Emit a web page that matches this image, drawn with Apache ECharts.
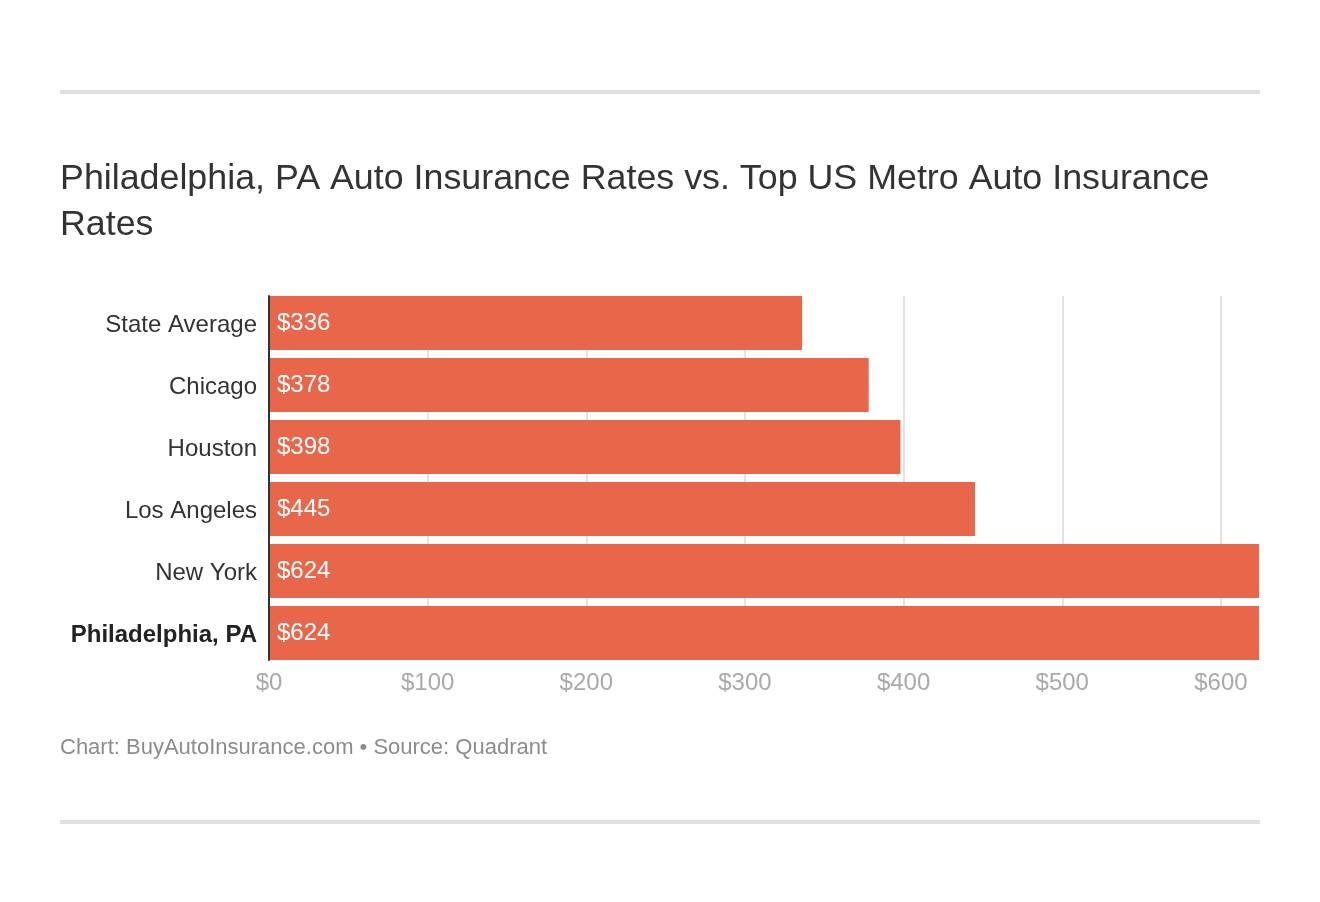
<!DOCTYPE html>
<html>
<head>
<meta charset="utf-8">
<script src="https://cdn.jsdelivr.net/npm/echarts@6/dist/echarts.min.js"></script>
<style>
html,body{margin:0;padding:0;background:#fff;}
#chart{width:1320px;height:902px;}
</style>
</head>
<body>
<div id="chart"></div>
<script>
const categories = ["State Average", "Chicago", "Houston", "Los Angeles", "New York", "Philadelphia, PA"];
const rates = [336, 378, 398, 445, 624, 624];
const highlighted = "Philadelphia, PA";
const titleText = "Philadelphia, PA Auto Insurance Rates vs. Top US Metro Auto Insurance\nRates";
const footerText = "Chart: BuyAutoInsurance.com \u2022 Source: Quadrant";
const axisMax = 624;
const tickStep = 100;

const FONT = "'Liberation Sans', Arial, sans-serif";
const chart = echarts.init(document.getElementById('chart'), null, {renderer: 'canvas'});

chart.setOption({
  backgroundColor: '#fff',
  animation: false,
  textStyle: {fontFamily: FONT},
  title: {
    text: titleText,
    left: 55,
    top: 151,
    textStyle: {fontFamily: FONT, fontSize: 35.8, fontWeight: 'normal', color: '#333', lineHeight: 46}
  },
  graphic: [
    {type: 'rect', left: 60, top: 90, shape: {width: 1200, height: 4}, style: {fill: '#e0e0e0'}},
    {type: 'rect', left: 60, top: 820, shape: {width: 1200, height: 4}, style: {fill: '#e0e0e0'}},
    {type: 'text', left: 60, top: 737, style: {text: footerText, fontFamily: FONT, fontSize: 22, fill: '#8c8c8c'}}
  ],
  grid: [
    {left: 269, right: 61, top: 292, height: 372},
    {left: 269, right: 61, top: 296, height: 364}
  ],
  xAxis: [
    {gridIndex: 0, type: 'value', min: 0, max: axisMax, show: false},
    {
      gridIndex: 1, type: 'value', min: 0, max: axisMax, interval: tickStep,
      axisLine: {show: false}, axisTick: {show: false},
      axisLabel: {
        formatter: v => '$' + v, fontFamily: FONT, fontSize: 24, color: '#aaa', margin: 11,
        showMaxLabel: false
      },
      splitLine: {show: true, showMaxLine: false, showMinLine: false, lineStyle: {color: '#e3e3e3', width: 2}}
    }
  ],
  yAxis: [
    {
      gridIndex: 0, type: 'category', data: categories, inverse: true,
      axisLine: {show: false}, axisTick: {show: false},
      axisLabel: {
        margin: 12,
        formatter: v => (v === highlighted ? '{h|' : '{n|') + v + '}',
        rich: {
          n: {fontFamily: FONT, fontSize: 24, color: '#333', padding: [4, 0, 0, 0]},
          h: {fontFamily: FONT, fontSize: 24, color: '#222', fontWeight: 'bold', padding: [4, 0, 0, 0]}
        }
      }
    },
    {
      gridIndex: 1, type: 'category', data: categories, inverse: true, z: 5,
      axisLine: {show: true, lineStyle: {color: '#333', width: 2}},
      axisTick: {show: false}, axisLabel: {show: false}, splitLine: {show: false}
    }
  ],
  series: [{
    type: 'bar',
    xAxisIndex: 0, yAxisIndex: 0,
    data: rates,
    barWidth: 54,
    itemStyle: {color: '#e8674a'},
    label: {
      show: true, position: 'insideLeft', distance: 8,
      formatter: p => '$' + p.value,
      fontFamily: FONT, fontSize: 24, color: '#fff'
    }
  }]
});
</script>
</body>
</html>
